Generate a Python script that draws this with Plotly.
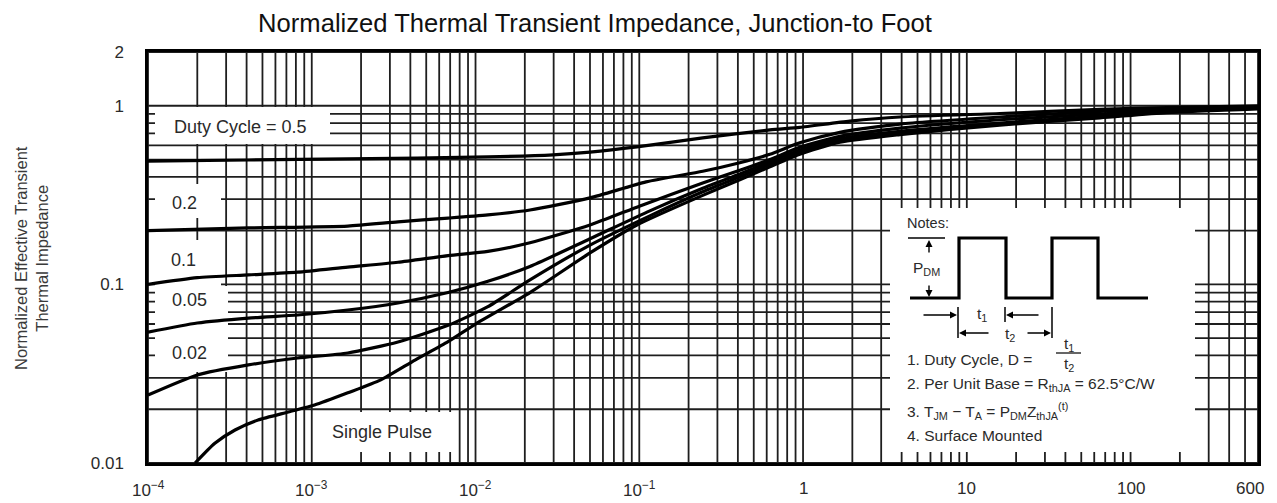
import math
import plotly.graph_objects as go

# ---------------- data ----------------
t_d05 = [1e-4, 4.1e-4, 1.66e-3, 1.19e-2, 2.97e-2, 5.0e-2, 9.67e-2, 0.244, 0.627, 0.955, 1.93, 3.9, 15.9, 32, 65, 166, 600]
z_d05 = [0.49, 0.497, 0.504, 0.517, 0.531, 0.55, 0.588, 0.661, 0.733, 0.757, 0.82, 0.865, 0.905, 0.93, 0.955, 0.978, 1.0]

t_d02 = [1e-4, 4.1e-4, 1.66e-3, 3.36e-3, 6.8e-3, 1.19e-2, 2.15e-2, 5.0e-2, 0.11, 0.244, 0.411, 0.627, 0.955, 1.68, 3.9, 15.9, 65, 166, 600]
z_d02 = [0.2, 0.207, 0.212, 0.224, 0.235, 0.245, 0.261, 0.305, 0.375, 0.43, 0.48, 0.535, 0.62, 0.71, 0.79, 0.865, 0.93, 0.965, 0.99]

t_d01 = [1e-4, 2e-4, 4.1e-4, 8.2e-4, 1.66e-3, 3.36e-3, 6.8e-3, 1.19e-2, 2.15e-2, 5.0e-2, 0.101, 0.244, 0.411, 0.627, 0.955, 1.68, 3.9, 15.9, 65, 166, 600]
z_d01 = [0.1, 0.109, 0.113, 0.117, 0.125, 0.133, 0.145, 0.153, 0.171, 0.215, 0.275, 0.37, 0.435, 0.5, 0.585, 0.675, 0.75, 0.835, 0.9, 0.95, 0.98]

t_d005 = [1e-4, 2e-4, 4.1e-4, 8.2e-4, 1.66e-3, 3.36e-3, 6.8e-3, 1.19e-2, 2.15e-2, 5.0e-2, 0.116, 0.244, 0.411, 0.627, 0.955, 1.68, 3.9, 15.9, 65, 166, 600]
z_d005 = [0.054, 0.0608, 0.0648, 0.0674, 0.0719, 0.0787, 0.09, 0.104, 0.126, 0.18, 0.258, 0.345, 0.415, 0.485, 0.565, 0.655, 0.72, 0.80, 0.875, 0.935, 0.975]

t_d002 = [1e-4, 2e-4, 4.1e-4, 8.2e-4, 1.66e-3, 3.36e-3, 6.8e-3, 1.19e-2, 2.15e-2, 5.0e-2, 0.116, 0.244, 0.411, 0.627, 0.955, 1.68, 3.9, 15.9, 65, 166, 600]
z_d002 = [0.024, 0.0311, 0.0354, 0.0387, 0.0413, 0.0476, 0.059, 0.075, 0.106, 0.166, 0.242, 0.33, 0.40, 0.47, 0.55, 0.64, 0.70, 0.79, 0.865, 0.925, 0.97]

t_single = [1.94e-4, 2.56e-4, 3.4e-4, 4.7e-4, 7.2e-4, 1.04e-3, 1.66e-3, 2.64e-3, 4.27e-3, 6.8e-3, 1.0e-2, 2.15e-2, 5.0e-2, 0.0967, 0.244, 0.411, 0.627, 0.955, 1.68, 3.9, 15.9, 65, 166, 600]
z_single = [0.01, 0.0129, 0.0153, 0.0174, 0.0193, 0.0211, 0.0247, 0.0292, 0.0377, 0.0478, 0.06, 0.09, 0.15, 0.215, 0.315, 0.385, 0.455, 0.535, 0.625, 0.69, 0.78, 0.855, 0.915, 0.96]

x_label_vals = [1e-4, 1e-3, 1e-2, 1e-1, 1, 10, 100, 600]
x_label_text = ["10<sup>−4</sup>", "10<sup>−3</sup>", "10<sup>−2</sup>", "10<sup>−1</sup>", "1", "10", "100", "600"]
y_label_vals = [0.01, 0.1, 1, 2]
y_label_text = ["0.01", "0.1", "1", "2"]

curve_labels = ["Duty Cycle = 0.5", "0.2", "0.1", "0.05", "0.02", "Single Pulse"]

# grid positions (1..9 per decade)
x_grid = sorted(set([m * 10.0 ** e for e in range(-4, 2) for m in range(1, 10)] + [100, 200, 300, 400, 500, 600]))
y_grid = sorted(set([m * 10.0 ** e for e in range(-2, 0) for m in range(1, 10)] + [1, 2]))

XR = [-4, math.log10(600)]
YR = [-2, math.log10(2)]


def fmt(vals, labs, grid):
    out = []
    for g in grid:
        s = ""
        for v, l in zip(vals, labs):
            if abs(g - v) / v < 1e-9:
                s = l
        out.append(s)
    return out


# ---------------- layout geometry ----------------
W, H = 1277, 503
L, R, T, B = 148, 1258, 52, 463


def fx(p):
    return (p - L) / (R - L)


def fy(p):
    return (B - p) / (B - T)


FONT = "Liberation Sans, Arial, sans-serif"
TXT = "#2a2a2a"
GRID = "#1e1e1e"

fig = go.Figure()
for t, z in [(t_d05, z_d05), (t_d02, z_d02), (t_d01, z_d01), (t_d005, z_d005),
             (t_d002, z_d002), (t_single, z_single)]:
    fig.add_trace(go.Scatter(x=t, y=z, mode="lines",
                             line=dict(color="black", width=3.2, shape="spline", smoothing=0.6),
                             hoverinfo="skip", showlegend=False))

TICK_SIZE = 17
axis_common = dict(type="log", showgrid=False,
                   showline=True, linecolor="black", linewidth=2.5, mirror=True,
                   ticks="", zeroline=False, tickfont=dict(family=FONT, size=TICK_SIZE, color=TXT))

# x labels are placed as annotations (see below) so the last one can sit inside the page
fig.update_xaxes(range=XR, tickvals=x_grid, showticklabels=False, **axis_common)
fig.update_yaxes(range=YR, tickvals=y_grid,
                 ticktext=fmt(y_label_vals, y_label_text, y_grid), ticklabelstandoff=18,
                 **axis_common)

shapes = []

# grid lines (drawn as shapes below the traces so label boxes can interrupt them)
for g in x_grid:
    p = (math.log10(g) - XR[0]) / (XR[1] - XR[0])
    shapes.append(dict(type="line", xref="paper", yref="paper", layer="below",
                       x0=p, x1=p, y0=0, y1=1, line=dict(color=GRID, width=1.8)))
for g in y_grid:
    p = (math.log10(g) - YR[0]) / (YR[1] - YR[0])
    shapes.append(dict(type="line", xref="paper", yref="paper", layer="below",
                       x0=0, x1=1, y0=p, y1=p, line=dict(color=GRID, width=1.8)))


def mask(x0, y0, x1, y1):
    shapes.append(dict(type="rect", xref="paper", yref="paper", layer="below",
                       x0=fx(x0), x1=fx(x1), y0=fy(y1), y1=fy(y0),
                       fillcolor="white", line=dict(width=0)))


# white label boxes that interrupt the grid
mask(155, 107, 330, 144)   # Duty cycle = 0.5
mask(155, 184, 221, 218)   # 0.2
mask(155, 240, 221, 287)   # 0.1
mask(155, 286, 228, 331)   # 0.05
mask(155, 330, 228, 372)   # 0.02
mask(322, 412, 457, 452)   # Single pulse
mask(890, 208, 1195, 452)  # Notes box


def seg(x0, y0, x1, y1, w=1.5):
    shapes.append(dict(type="line", xref="paper", yref="paper", layer="above",
                       x0=fx(x0), y0=fy(y0), x1=fx(x1), y1=fy(y1),
                       line=dict(color="black", width=w)))


# pulse waveform of the notes diagram
wave = [(910, 298), (959, 298), (959, 238), (1006, 238), (1006, 298),
        (1052, 298), (1052, 238), (1098, 238), (1098, 298), (1148, 298)]
path = "M " + " L ".join(f"{fx(a):.5f},{fy(b):.5f}" for a, b in wave)
shapes.append(dict(type="path", xref="paper", yref="paper", layer="above", path=path,
                   line=dict(color="black", width=3.2)))
seg(908, 238, 945, 238, 1.5)
seg(958, 307, 958, 338, 1.5)
seg(1005, 307, 1005, 322, 1.5)
seg(1052, 307, 1052, 338, 1.5)
seg(1056, 353, 1081, 353, 1.2)

annotations = []


def text(s, x, y, size=16, anchor="left", color=TXT, **kw):
    annotations.append(dict(text=s, xref="paper", yref="paper", x=fx(x), y=fy(y),
                            xanchor=anchor, yanchor="middle", showarrow=False,
                            font=dict(family=FONT, size=size, color=color), **kw))


def arrow(hx, hy, tx, ty):
    annotations.append(dict(text="", xref="paper", yref="paper", x=fx(hx), y=fy(hy),
                            ax=tx - hx, ay=ty - hy, axref="pixel", ayref="pixel",
                            showarrow=True, arrowhead=2, arrowsize=1, arrowwidth=1.4,
                            arrowcolor="black"))


# x tick labels (on the axis scale); the last one is nudged inward like the reference
for i, (v, lab) in enumerate(zip(x_label_vals, x_label_text)):
    annotations.append(dict(text=lab, xref="x", yref="paper", x=math.log10(v), y=fy(489),
                            xshift=-8 if i == len(x_label_vals) - 1 else 0,
                            xanchor="center", yanchor="middle", showarrow=False,
                            font=dict(family=FONT, size=TICK_SIZE, color=TXT)))

# curve labels (centred on the reference text positions)
LS = 18
text(curve_labels[0], 240, 127, LS, anchor="center")
text(curve_labels[1], 184, 203, LS, anchor="center")
text(curve_labels[2], 183, 260, LS, anchor="center")
text(curve_labels[3], 189, 300, LS, anchor="center")
text(curve_labels[4], 189, 353, LS, anchor="center")
text(curve_labels[5], 382, 432, LS, anchor="center")

# notes
NS = 15.5
NX = 905
text("Notes:", NX, 223, NS - 1)
text("P<sub>DM</sub>", 911, 268, NS)
arrow(929, 240, 929, 254)
arrow(929, 297, 929, 284)
arrow(957, 315, 922, 315)
arrow(1006, 315, 1040, 315)
arrow(959, 333, 990, 333)
arrow(1051, 333, 1026, 333)
text("t<sub>1</sub>", 982, 314, NS, anchor="center")
text("t<sub>2</sub>", 1010, 334, NS, anchor="center")
text("1. Duty Cycle, D = ", NX, 359, NS)
text("t<sub>1</sub>", 1069, 344, NS, anchor="center")
text("t<sub>2</sub>", 1069, 364, NS, anchor="center")
text("2. Per Unit Base = R<sub>thJA</sub> = 62.5°C/W", NX, 384, NS)
text("3. T<sub>JM</sub> − T<sub>A</sub> = P<sub>DM</sub>Z<sub>thJA</sub><sup>(t)</sup>", NX, 411, NS)
text("4. Surface Mounted", NX, 435, NS)

# y axis title
text("Normalized Effective Transient<br>Thermal Impedance", 31, 258, 16.5, anchor="center",
     color="#3a3a3a", textangle=-90)

fig.update_layout(
    width=W, height=H, autosize=False,
    margin=dict(l=L, r=W - R, t=T, b=H - B, pad=0),
    plot_bgcolor="white", paper_bgcolor="white",
    shapes=shapes, annotations=annotations,
    title=dict(text="Normalized Thermal Transient Impedance, Junction-to Foot",
               x=595 / W, xanchor="center", xref="container",
               y=1 - 23 / H, yanchor="middle", yref="container",
               font=dict(family=FONT, size=25.6, color="#111")),
)

# remove the browser's default 8px page margin so the figure sits at the window's corner
fig.write_html("out.html", config={"displayModeBar": False},
               post_script="document.body.style.margin='0';document.body.style.padding='0';")
